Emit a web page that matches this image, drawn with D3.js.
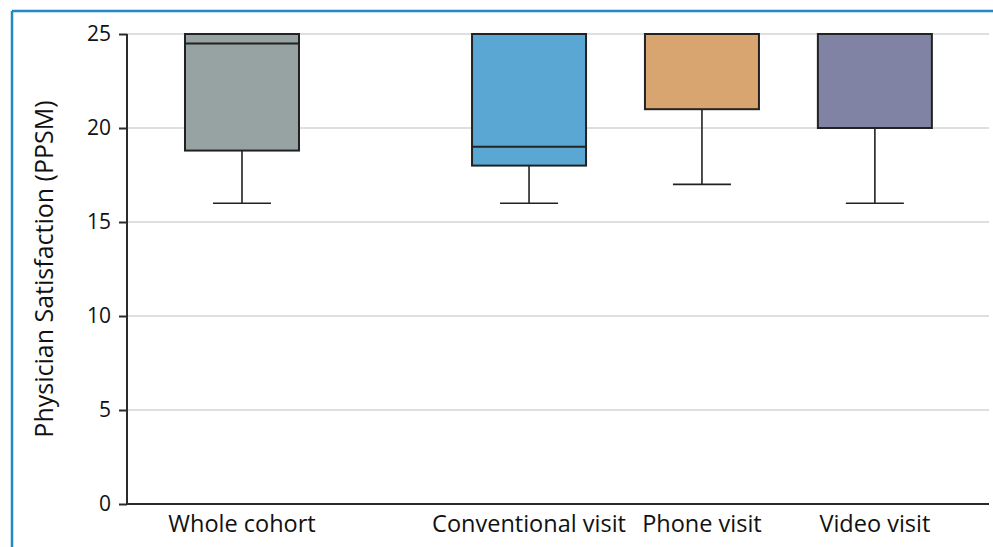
<!DOCTYPE html>
<html>
<head>
<meta charset="utf-8">
<script src="https://cdn.jsdelivr.net/npm/d3@7"></script>
<style>
  html, body { margin: 0; padding: 0; background: #fff; }
  svg { display: block; }
</style>
</head>
<body>
<svg id="chart" width="993" height="547"></svg>
<script>
// Box plot data: Physician Satisfaction (PPSM) by visit type
const categories = ["Whole cohort", "Conventional visit", "Phone visit", "Video visit"];
const whiskerLow = [16, 16, 17, 16];
const q1         = [18.8, 18, 21, 20];
const median     = [24.5, 19, 25, 25];
const q3         = [25, 25, 25, 25];
const whiskerHigh = [25, 25, 25, 25];
const yTicks = [0, 5, 10, 15, 20, 25];
const fills = ["#97a2a2", "#5ba7d3", "#d8a570", "#8083a3"];

const svg = d3.select("#chart");
const W = 993, H = 547;

// Frame
svg.append("line").attr("x1", 12).attr("x2", W).attr("y1", 11).attr("y2", 11)
  .attr("stroke", "#1f8ac6").attr("stroke-width", 2.5);
svg.append("line").attr("x1", 12).attr("x2", 12).attr("y1", 11).attr("y2", H)
  .attr("stroke", "#1f8ac6").attr("stroke-width", 2.5);

const plot = { left: 127, right: 989, top: 34, bottom: 504 };

const y = d3.scaleLinear().domain([0, 25]).range([plot.bottom, plot.top]);

// The whole cohort sits apart from the three visit types
const gap = 0.66;
const slot = i => i + (i > 0 ? gap : 0);
const x = d3.scaleLinear().domain([-0.665, 4.32]).range([plot.left, plot.right]);
const boxW = 114, capW = 58;

// Gridlines
svg.append("g").selectAll("line").data(yTicks.filter(t => t > 0)).join("line")
  .attr("x1", plot.left).attr("x2", plot.right)
  .attr("y1", d => y(d)).attr("y2", d => y(d))
  .attr("stroke", "#d4d4d4").attr("stroke-width", 1.5);

// Y axis
const yAxis = svg.append("g").attr("transform", `translate(${plot.left},0)`)
  .call(d3.axisLeft(y).tickValues(yTicks).tickSize(8).tickPadding(8));
yAxis.select(".domain").attr("stroke", "#2b2b2b").attr("stroke-width", 2)
  .attr("d", `M0,${plot.top}V${plot.bottom}`);
yAxis.selectAll(".tick line").attr("stroke", "#2b2b2b").attr("stroke-width", 2);
yAxis.selectAll(".tick text").attr("font-family", "'Open Sans', sans-serif")
  .attr("font-size", 21).attr("fill", "#111");

// X axis baseline
svg.append("line").attr("x1", plot.left).attr("x2", plot.right)
  .attr("y1", plot.bottom).attr("y2", plot.bottom)
  .attr("stroke", "#2b2b2b").attr("stroke-width", 2);

// Category labels
svg.append("g").selectAll("text").data(categories).join("text")
  .attr("x", (d, i) => x(slot(i)))
  .attr("y", 532)
  .attr("text-anchor", "middle")
  .attr("font-family", "'Open Sans', sans-serif")
  .attr("font-size", 23.5)
  .attr("fill", "#111")
  .text(d => d);

// Y axis title
svg.append("text")
  .attr("transform", `translate(53,${(plot.top + plot.bottom) / 2}) rotate(-90)`)
  .attr("text-anchor", "middle")
  .attr("font-family", "'Open Sans', sans-serif")
  .attr("font-size", 25)
  .attr("fill", "#111")
  .text("Physician Satisfaction (PPSM)");

// Boxes
const data = categories.map((c, i) => ({
  c, i, lo: whiskerLow[i], q1: q1[i], med: median[i], q3: q3[i], hi: whiskerHigh[i], fill: fills[i]
}));

const g = svg.append("g").selectAll("g").data(data).join("g");
const stroke = "#222";

// lower whisker
g.append("line")
  .attr("x1", d => x(slot(d.i))).attr("x2", d => x(slot(d.i)))
  .attr("y1", d => y(d.q1)).attr("y2", d => y(d.lo))
  .attr("stroke", stroke).attr("stroke-width", 1.6);
g.append("line")
  .attr("x1", d => x(slot(d.i)) - capW / 2).attr("x2", d => x(slot(d.i)) + capW / 2)
  .attr("y1", d => y(d.lo)).attr("y2", d => y(d.lo))
  .attr("stroke", stroke).attr("stroke-width", 1.6);
// upper whisker
g.filter(d => d.hi > d.q3).append("line")
  .attr("x1", d => x(slot(d.i))).attr("x2", d => x(slot(d.i)))
  .attr("y1", d => y(d.q3)).attr("y2", d => y(d.hi))
  .attr("stroke", stroke).attr("stroke-width", 1.6);

g.append("rect")
  .attr("x", d => x(slot(d.i)) - boxW / 2)
  .attr("width", boxW)
  .attr("y", d => y(d.q3))
  .attr("height", d => y(d.q1) - y(d.q3))
  .attr("fill", d => d.fill)
  .attr("stroke", stroke).attr("stroke-width", 2);

g.filter(d => d.med < d.q3 && d.med > d.q1).append("line")
  .attr("x1", d => x(slot(d.i)) - boxW / 2).attr("x2", d => x(slot(d.i)) + boxW / 2)
  .attr("y1", d => y(d.med)).attr("y2", d => y(d.med))
  .attr("stroke", stroke).attr("stroke-width", 2);
</script>
</body>
</html>
